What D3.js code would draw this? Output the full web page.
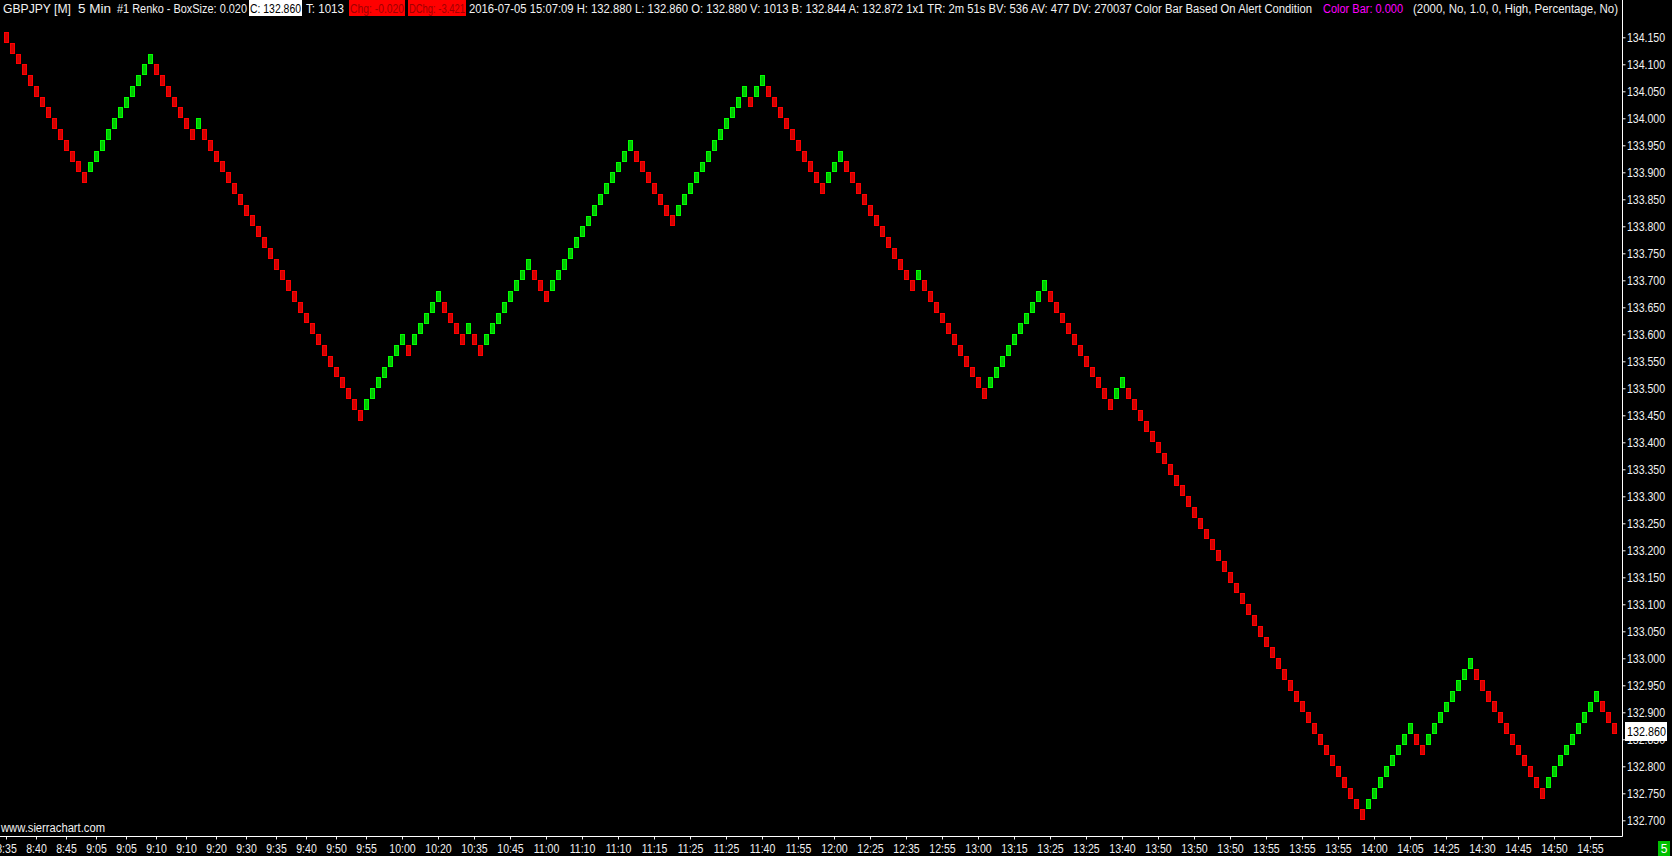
<!DOCTYPE html>
<html>
<head>
<meta charset="utf-8">
<script src="https://cdn.jsdelivr.net/npm/d3@7"></script>
<style>
  html, body { margin: 0; padding: 0; background: #000; overflow: hidden; }
  svg { display: block; font-family: "Liberation Sans", Arial, sans-serif; }
</style>
</head>
<body>
<div id="chart"></div>
<script>
// GBPJPY renko, box size 0.020 - close price of every brick, left to right
const boxSize = 0.02
const brickClose = [
  134.14, 134.12, 134.10, 134.08, 134.06, 134.04, 134.02, 134.00, 133.98, 133.96, 133.94, 133.92, 133.90, 133.88,
  133.92, 133.94, 133.96, 133.98, 134.00, 134.02, 134.04, 134.06, 134.08, 134.10, 134.12,
  134.08, 134.06, 134.04, 134.02, 134.00, 133.98, 133.96,
  134.00,
  133.96, 133.94, 133.92, 133.90, 133.88, 133.86, 133.84, 133.82, 133.80, 133.78, 133.76, 133.74, 133.72, 133.70,
  133.68, 133.66, 133.64, 133.62, 133.60, 133.58, 133.56, 133.54, 133.52, 133.50, 133.48, 133.46, 133.44,
  133.48, 133.50, 133.52, 133.54, 133.56, 133.58, 133.60,
  133.56,
  133.60, 133.62, 133.64, 133.66, 133.68,
  133.64, 133.62, 133.60, 133.58,
  133.62,
  133.58, 133.56,
  133.60, 133.62, 133.64, 133.66, 133.68, 133.70, 133.72, 133.74,
  133.70, 133.68, 133.66,
  133.70, 133.72, 133.74, 133.76, 133.78, 133.80, 133.82, 133.84, 133.86, 133.88, 133.90, 133.92, 133.94, 133.96,
  133.92, 133.90, 133.88, 133.86, 133.84, 133.82, 133.80,
  133.84, 133.86, 133.88, 133.90, 133.92, 133.94, 133.96, 133.98, 134.00, 134.02, 134.04, 134.06,
  134.02,
  134.06, 134.08,
  134.04, 134.02, 134.00, 133.98, 133.96, 133.94, 133.92, 133.90, 133.88, 133.86,
  133.90, 133.92, 133.94,
  133.90, 133.88, 133.86, 133.84, 133.82, 133.80, 133.78, 133.76, 133.74, 133.72, 133.70, 133.68,
  133.72,
  133.68, 133.66, 133.64, 133.62, 133.60, 133.58, 133.56, 133.54, 133.52, 133.50, 133.48,
  133.52, 133.54, 133.56, 133.58, 133.60, 133.62, 133.64, 133.66, 133.68, 133.70,
  133.66, 133.64, 133.62, 133.60, 133.58, 133.56, 133.54, 133.52, 133.50, 133.48, 133.46,
  133.50, 133.52,
  133.48, 133.46, 133.44, 133.42, 133.40, 133.38, 133.36, 133.34, 133.32, 133.30,
  133.28, 133.26, 133.24, 133.22, 133.20, 133.18, 133.16, 133.14, 133.12, 133.10,
  133.08, 133.06, 133.04, 133.02, 133.00, 132.98, 132.96, 132.94, 132.92, 132.90,
  132.88, 132.86, 132.84, 132.82, 132.80, 132.78, 132.76, 132.74, 132.72, 132.70,
  132.74, 132.76, 132.78, 132.80, 132.82, 132.84, 132.86, 132.88,
  132.84, 132.82,
  132.86, 132.88, 132.90, 132.92, 132.94, 132.96, 132.98, 133.00,
  132.96, 132.94, 132.92, 132.90, 132.88, 132.86, 132.84, 132.82, 132.80, 132.78, 132.76, 132.74,
  132.78, 132.80, 132.82, 132.84, 132.86, 132.88, 132.90, 132.92, 132.94,
  132.90, 132.88, 132.86
]

// time scale labels and the brick they sit under
const timeLabels = [
  "8:35", "8:40", "8:45", "9:05", "9:05", "9:10", "9:10", "9:20", "9:30", "9:35", "9:40", "9:50", "9:55",
  "10:00", "10:20", "10:35", "10:45", "11:00", "11:10", "11:10", "11:15", "11:25", "11:25", "11:40", "11:55",
  "12:00", "12:25", "12:35", "12:55", "13:00", "13:15", "13:25", "13:25", "13:40", "13:50", "13:50", "13:50",
  "13:55", "13:55", "13:55", "14:00", "14:05", "14:25", "14:30", "14:45", "14:50", "14:55"
]
const timeLabelBars = [
  0, 5, 10, 15, 20, 25, 30, 35, 40, 45, 50, 55, 60,
  66, 72, 78, 84, 90, 96, 102, 108, 114, 120, 126, 132,
  138, 144, 150, 156, 162, 168, 174, 180, 186, 192, 198, 204,
  210, 216, 222, 228, 234, 240, 246, 252, 258, 264
]
const priceTicks = [
  132.70, 132.75, 132.80, 132.85, 132.90, 132.95, 133.00, 133.05, 133.10, 133.15,
  133.20, 133.25, 133.30, 133.35, 133.40, 133.45, 133.50, 133.55, 133.60, 133.65,
  133.70, 133.75, 133.80, 133.85, 133.90, 133.95, 134.00, 134.05, 134.10, 134.15
]
const lastPrice = 132.86

const headerParts = [
  "GBPJPY [M]", "5 Min", "#1 Renko - BoxSize: 0.020", "C: 132.860", "T: 1013", "Chg: -0.020", "DChg: -3.421",
  "2016-07-05 15:07:09 H: 132.880 L: 132.860 O: 132.880 V: 1013 B: 132.844 A: 132.872 1x1 TR: 2m 51s BV: 536 AV: 477 DV: 270037 Color Bar Based On Alert Condition",
  "Color Bar: 0.000",
  "(2000, No, 1.0, 0, High, Percentage, No)"
]
// where each header piece sits (x, width, background, text colour)
const headerLayout = [
  { x: 3, w: 68 }, { x: 78, w: 33 }, { x: 117, w: 130 },
  { x: 250, w: 51, bg: "#ffffff", color: "#000000" },
  { x: 306, w: 38 },
  { x: 350, w: 54, bg: "#ff0000", color: "#a00000" },
  { x: 409, w: 56, bg: "#ff0000", color: "#a00000" },
  { x: 469, w: 843 },
  { x: 1323, w: 80, color: "#ff00ff" },
  { x: 1413, w: 205 }
]

const width = 1672, height = 856
const plotRight = 1622.5, plotBottom = 836.5
const textColor = "#f2f2f2"
const squeeze = 0.88

const x = d3.scaleLinear().domain([0, brickClose.length - 1]).range([6.3, 1614.3])
const y = d3.scaleLinear().domain([132.70, 134.15]).range([820.3, 37.3])

const svg = d3.select("#chart")
  .append("svg")
    .attr("width", width)
    .attr("height", height)

svg.append("rect")
  .attr("width", width)
  .attr("height", height)
  .attr("fill", "#000")

// bricks: a reversal brick opens where the previous brick opened
const bricks = brickClose.map((c, i) => {
  const up = i > 0 && c > brickClose[i - 1]
  const open = up ? c - boxSize : c + boxSize
  return { i, up, hi: Math.max(open, c), lo: Math.min(open, c) }
})

svg.append("g")
  .selectAll("rect")
  .data(bricks)
  .join("rect")
    .attr("x", d => Math.round(x(d.i)) - 1.5)
    .attr("width", 4)
    .attr("y", d => Math.round(y(d.hi)) + 0.5)
    .attr("height", d => Math.round(y(d.lo)) - Math.round(y(d.hi)) - 1)
    .attr("fill", d => d.up ? "#00c800" : "#d20000")
    .attr("stroke", d => d.up ? "#00ff00" : "#ff0000")
    .attr("stroke-width", 1)

// price scale on the right
const yAxis = svg.append("g")
  .attr("transform", `translate(${plotRight},0)`)
  .call(d3.axisRight(y)
    .tickValues(priceTicks)
    .tickFormat(d3.format(".3f"))
    .tickSize(3)
    .tickPadding(2))
yAxis.select(".domain").remove()
yAxis.selectAll("line").attr("stroke", textColor)
yAxis.selectAll("text")
  .attr("fill", textColor)
  .attr("font-size", 12)
  .attr("font-family", "Liberation Sans, Arial, sans-serif")
  .attr("transform", `scale(${squeeze},1)`)

// time scale at the bottom
const xAxis = svg.append("g")
  .attr("transform", `translate(0,${plotBottom})`)
  .call(d3.axisBottom(x)
    .tickValues(timeLabelBars)
    .tickFormat((d, i) => timeLabels[i])
    .tickSize(3)
    .tickPadding(5))
xAxis.select(".domain").remove()
xAxis.selectAll("line").attr("stroke", textColor)
xAxis.selectAll(".tick").attr("transform", d => `translate(${Math.round(x(d)) + 0.5},0)`)
xAxis.selectAll("text")
  .attr("fill", textColor)
  .attr("font-size", 12)
  .attr("font-family", "Liberation Sans, Arial, sans-serif")
  .attr("transform", `scale(${squeeze},1)`)

// frame lines
svg.append("line")
  .attr("x1", plotRight).attr("x2", plotRight)
  .attr("y1", 0).attr("y2", plotBottom)
  .attr("stroke", "#ffffff")
svg.append("line")
  .attr("x1", 0).attr("x2", plotRight)
  .attr("y1", plotBottom).attr("y2", plotBottom)
  .attr("stroke", "#ffffff")

// last price marker
const markerY = Math.round(y(lastPrice))
svg.append("rect")
  .attr("x", 1625).attr("y", markerY - 12)
  .attr("width", 42).attr("height", 19)
  .attr("fill", "#ffffff")
svg.append("text")
  .attr("x", 1627).attr("y", markerY + 2)
  .attr("fill", "#000")
  .attr("font-size", 12)
  .attr("textLength", 39)
  .attr("lengthAdjust", "spacingAndGlyphs")
  .text(d3.format(".3f")(lastPrice))

// header line
const header = svg.append("g")
headerParts.forEach((t, i) => {
  const l = headerLayout[i]
  if (l.bg) {
    header.append("rect")
      .attr("x", l.x - 1).attr("y", 0)
      .attr("width", l.w + 2).attr("height", 16)
      .attr("fill", l.bg)
  }
  header.append("text")
    .attr("x", l.x).attr("y", 12.5)
    .attr("fill", l.color || textColor)
    .attr("font-size", 12.5)
    .attr("textLength", l.w)
    .attr("lengthAdjust", "spacingAndGlyphs")
    .text(t)
})

svg.append("text")
  .attr("x", 1).attr("y", 832)
  .attr("fill", textColor)
  .attr("font-size", 12)
  .attr("textLength", 104)
  .attr("lengthAdjust", "spacingAndGlyphs")
  .text("www.sierrachart.com")

// bar counter box bottom right
svg.append("rect")
  .attr("x", 1658).attr("y", 841)
  .attr("width", 12).attr("height", 15)
  .attr("fill", "#00c000")
svg.append("text")
  .attr("x", 1664).attr("y", 853)
  .attr("text-anchor", "middle")
  .attr("fill", "#ffffff")
  .attr("font-size", 12)
  .text("5")
</script>
</body>
</html>
